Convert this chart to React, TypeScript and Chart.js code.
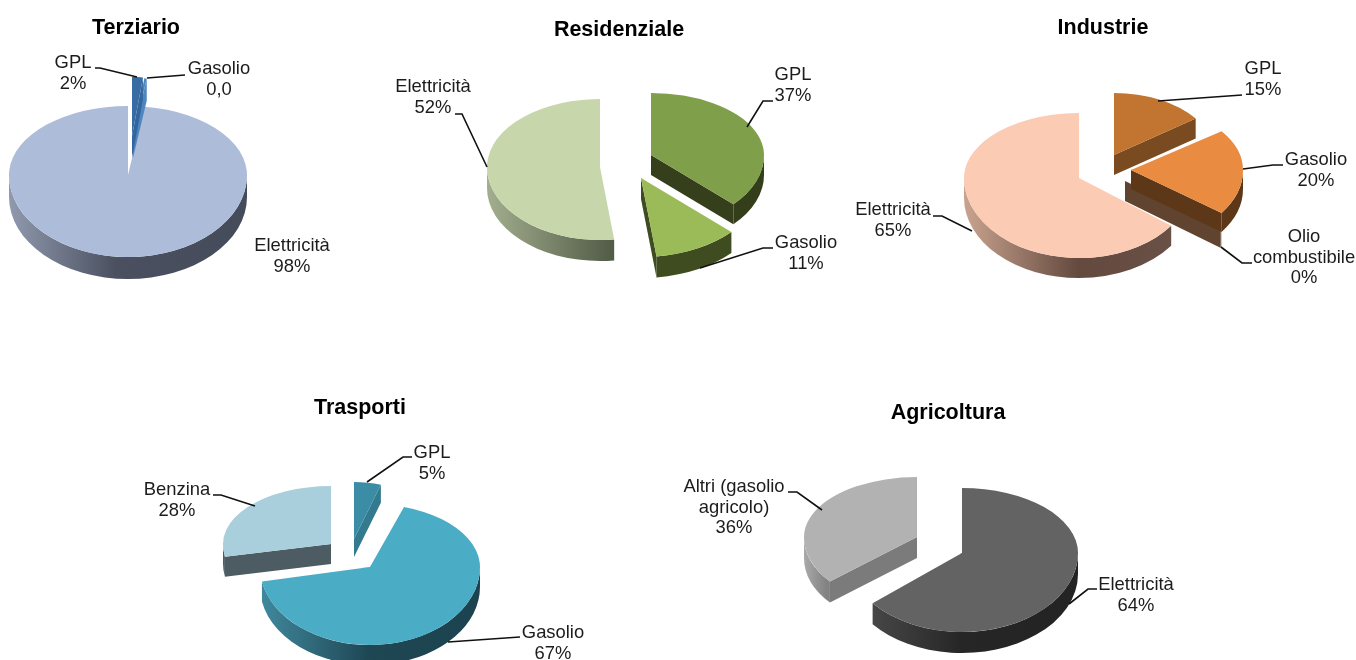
import React, { useEffect, useRef } from "react";
import { Chart, registerables } from "chart.js";

Chart.register(...registerables);

// ---------- data ----------
const terziarioCategories = ["GPL", "Gasolio", "Elettricità"];
const terziarioValues = [1.8, 0.4, 97.8];
const terziarioPercent = ["2%", "0,0", "98%"];

const residenzialeCategories = ["GPL", "Gasolio", "Elettricità"];
const residenzialeValues = [37, 11, 52];
const residenzialePercent = ["37%", "11%", "52%"];

const industrieCategories = ["GPL", "Gasolio", "Olio\ncombustibile", "Elettricità"];
const industrieValues = [15, 20, 0.2, 64.8];
const industriePercent = ["15%", "20%", "0%", "65%"];

const trasportiCategories = ["GPL", "Gasolio", "Benzina"];
const trasportiValues = [5, 67, 28];
const trasportiPercent = ["5%", "67%", "28%"];

const agricolturaCategories = ["Elettricità", "Altri (gasolio\nagricolo)"];
const agricolturaValues = [64, 36];
const agricolturaPercent = ["64%", "36%"];

// ---------- layout & style (page coordinates) ----------
type Stop = [number, string];
type Slice = {
  x: number; y: number; rx: number; top: number; bottom: number; depth: number;
  fill: string; face: string; wall: Stop[];
};
type Label = { x: number; y: number; line?: number[][] };
type Spec = {
  title: string; box: { left: number; top: number; width: number; height: number };
  categories: string[]; values: number[]; percent: string[];
  slices: Slice[]; order: number[]; labels: Label[];
};

const flat = (c: string): Stop[] => [[0, c], [1, c]];

const charts: Spec[] = [
  {
    title: "Terziario",
    box: { left: -90, top: 15, width: 452, height: 320 },
    categories: terziarioCategories, values: terziarioValues, percent: terziarioPercent,
    order: [2, 1, 0],
    slices: [
      { x: 132, y: 136, rx: 97, top: 59, bottom: 60, depth: 22, fill: "#376ba3", face: "#34669d", wall: flat("#34669d") },
      { x: 133, y: 136, rx: 100, top: 58, bottom: 60, depth: 22, fill: "#4f86c2", face: "#4f86c2", wall: flat("#4f86c2") },
      { x: 128, y: 175, rx: 119, top: 69, bottom: 82, depth: 22, fill: "#adbcd9", face: "#454c5c",
        wall: [[0, "#9099ae"], [0.45, "#4a5060"], [1, "#444b59"]] },
    ],
    labels: [
      { x: 73, y: 63, line: [[95, 68], [100, 68], [137, 77]] },
      { x: 219, y: 69, line: [[185, 75], [147, 78]] },
      { x: 292, y: 246 },
    ],
  },
  {
    title: "Residenziale",
    box: { left: 369, top: 17, width: 500, height: 320 },
    categories: residenzialeCategories, values: residenzialeValues, percent: residenzialePercent,
    order: [0, 2, 1],
    slices: [
      { x: 651, y: 155, rx: 113, top: 62, bottom: 72, depth: 20, fill: "#7f9f4a", face: "#363f1c", wall: flat("#343e1b") },
      { x: 641, y: 178, rx: 124, top: 70, bottom: 79, depth: 21, fill: "#9bbb59", face: "#3f4c20", wall: flat("#3f4c20") },
      { x: 600, y: 167, rx: 113, top: 68, bottom: 73, depth: 21, fill: "#c7d7ab", face: "#515b46",
        wall: [[0, "#a3ae8f"], [0.56, "#515b46"], [1, "#515b46"]] },
    ],
    labels: [
      { x: 793, y: 75, line: [[773, 101], [763, 101], [747, 127]] },
      { x: 806, y: 243, line: [[773, 248], [763, 248], [700, 268]] },
      { x: 433, y: 87, line: [[455, 114], [462, 114], [487, 167]] },
    ],
  },
  {
    title: "Industrie",
    box: { left: 843, top: 15, width: 520, height: 320 },
    categories: industrieCategories, values: industrieValues, percent: industriePercent,
    order: [0, 3, 2, 1],
    slices: [
      { x: 1114, y: 155, rx: 101, top: 62, bottom: 62, depth: 20, fill: "#c27530", face: "#7a4a20", wall: flat("#7a4a20") },
      { x: 1131, y: 170, rx: 112, top: 66, bottom: 73, depth: 19, fill: "#e98b40", face: "#5c3818", wall: flat("#5c3818") },
      { x: 1125, y: 181, rx: 119, top: 70, bottom: 78, depth: 20, fill: "#614430", face: "#614430", wall: flat("#614430") },
      { x: 1079, y: 178, rx: 115, top: 65, bottom: 80, depth: 20, fill: "#fbcbb3", face: "#63493e",
        wall: [[0, "#c9a38f"], [0.5, "#63493e"], [1, "#6b5248"]] },
    ],
    labels: [
      { x: 1263, y: 69, line: [[1242, 95], [1158, 101]] },
      { x: 1316, y: 160, line: [[1283, 165], [1273, 165], [1243, 169]] },
      { x: 1304, y: 237, line: [[1252, 263], [1242, 263], [1221, 247]] },
      { x: 893, y: 210, line: [[933, 216], [942, 216], [972, 231]] },
    ],
  },
  {
    title: "Trasporti",
    box: { left: 110, top: 395, width: 500, height: 265 },
    categories: trasportiCategories, values: trasportiValues, percent: trasportiPercent,
    order: [2, 0, 1],
    slices: [
      { x: 354, y: 539, rx: 87, top: 57, bottom: 57, depth: 18, fill: "#3b8ca5", face: "#337a8e", wall: flat("#337a8e") },
      { x: 370, y: 567, rx: 110, top: 63, bottom: 78, depth: 20, fill: "#4bacc6", face: "#1e4653",
        wall: [[0, "#40899e"], [0.5, "#1e4653"], [1, "#1c4450"]] },
      { x: 331, y: 544, rx: 108, top: 58, bottom: 68, depth: 20, fill: "#a9cfdd", face: "#4d5c63", wall: flat("#4d5c63") },
    ],
    labels: [
      { x: 432, y: 453, line: [[412, 457], [403, 457], [367, 482]] },
      { x: 553, y: 633, line: [[520, 637], [448, 642]] },
      { x: 177, y: 490, line: [[213, 495], [221, 495], [255, 506]] },
    ],
  },
  {
    title: "Agricoltura",
    box: { left: 648, top: 400, width: 600, height: 260 },
    categories: agricolturaCategories, values: agricolturaValues, percent: agricolturaPercent,
    order: [1, 0],
    slices: [
      { x: 962, y: 553, rx: 116, top: 65, bottom: 79, depth: 21, fill: "#636363", face: "#262626",
        wall: [[0, "#505050"], [0.5, "#262626"], [1, "#232323"]] },
      { x: 917, y: 537, rx: 113, top: 60, bottom: 70, depth: 21, fill: "#b2b2b2", face: "#7b7b7b",
        wall: [[0, "#aaaaaa"], [0.1, "#828282"], [1, "#7b7b7b"]] },
    ],
    labels: [
      { x: 1136, y: 585, line: [[1097, 589], [1088, 589], [1069, 604]] },
      { x: 734, y: 487, line: [[788, 492], [797, 492], [822, 510]] },
    ],
  },
];

const BASE_RADIUS = 100;
const FONT = '"Liberation Sans", Arial, sans-serif';

function makePie3d(spec: Spec) {
  const { box } = spec;
  return {
    id: "pie3d",
    beforeDatasetsDraw(chart: any) {
      const ctx: CanvasRenderingContext2D = chart.ctx;
      const arcs = chart.getDatasetMeta(0).data;
      for (const i of spec.order) {
        const arc = arcs[i];
        const s = spec.slices[i];
        const x = s.x - box.left;
        const y = s.y - box.top;
        const a0 = arc.startAngle;
        const a1 = arc.endAngle;
        const pt = (t: number): [number, number] => [
          x + s.rx * Math.cos(t),
          y + (Math.sin(t) < 0 ? s.top : s.bottom) * Math.sin(t),
        ];
        const face = (t: number) => {
          const [px, py] = pt(t);
          ctx.beginPath();
          ctx.moveTo(x, y);
          ctx.lineTo(px, py);
          ctx.lineTo(px, py + s.depth);
          ctx.lineTo(x, y + s.depth);
          ctx.closePath();
          ctx.fillStyle = s.face;
          ctx.fill();
        };
        // radial cut faces turned toward the viewer
        if (Math.cos(a0) < 0) face(a0);
        if (Math.cos(a1) > 0) face(a1);
        // rounded outer wall on the front half
        const from = Math.max(a0, 0);
        const to = Math.min(a1, Math.PI);
        if (from < to) {
          const g = ctx.createLinearGradient(x - s.rx, 0, x + s.rx, 0);
          s.wall.forEach(([p, c]) => g.addColorStop(p, c));
          ctx.beginPath();
          ctx.ellipse(x, y, s.rx, s.bottom, 0, from, to);
          ctx.ellipse(x, y + s.depth, s.rx, s.bottom, 0, to, from, true);
          ctx.closePath();
          ctx.fillStyle = g;
          ctx.fill();
        }
        // top surface: the library's own arc, squashed differently behind and in front of the apex
        const w = chart.width;
        const h = chart.height;
        const sx = s.rx / arc.outerRadius;
        ctx.save();
        ctx.beginPath();
        ctx.rect(0, 0, w, y + 0.5);
        ctx.clip();
        ctx.translate(x, y);
        ctx.scale(sx, s.top / arc.outerRadius);
        ctx.translate(-arc.x, -arc.y);
        arc.draw(ctx);
        ctx.restore();
        ctx.save();
        ctx.beginPath();
        ctx.rect(0, y - 0.5, w, h);
        ctx.clip();
        ctx.translate(x, y);
        ctx.scale(sx, s.bottom / arc.outerRadius);
        ctx.translate(-arc.x, -arc.y);
        arc.draw(ctx);
        ctx.restore();
      }
      return false;
    },
    afterDraw(chart: any) {
      const ctx: CanvasRenderingContext2D = chart.ctx;
      ctx.save();
      ctx.strokeStyle = "#111111";
      ctx.lineWidth = 1.6;
      ctx.fillStyle = "#1c1c1c";
      ctx.font = `18.4px ${FONT}`;
      ctx.textAlign = "center";
      ctx.textBaseline = "middle";
      spec.labels.forEach((l, i) => {
        if (l.line) {
          ctx.beginPath();
          l.line.forEach(([px, py], k) => {
            if (k === 0) ctx.moveTo(px - box.left, py - box.top);
            else ctx.lineTo(px - box.left, py - box.top);
          });
          ctx.stroke();
        }
        const lines = [...spec.categories[i].split("\n"), spec.percent[i]];
        lines.forEach((t, k) => {
          ctx.fillText(t, l.x - box.left, l.y - box.top + k * 20.7);
        });
      });
      ctx.restore();
    },
  };
}

function Pie3D({ spec }: { spec: Spec }) {
  const ref = useRef<HTMLCanvasElement>(null);
  useEffect(() => {
    const chart = new Chart(ref.current!, {
      type: "pie",
      data: {
        labels: spec.categories.map((c) => c.replace("\n", " ")),
        datasets: [
          {
            data: spec.values,
            backgroundColor: spec.slices.map((s) => s.fill),
            borderWidth: 0,
          },
        ],
      },
      options: {
        animation: false,
        responsive: false,
        devicePixelRatio: 1,
        radius: BASE_RADIUS,
        rotation: 0,
        layout: { padding: 0 },
        plugins: {
          legend: { display: false },
          tooltip: { enabled: false },
          title: {
            display: true,
            text: spec.title,
            color: "#000000",
            padding: 0,
            font: { family: FONT, size: 21.5, weight: "bold" },
          },
        },
      },
      plugins: [makePie3d(spec)],
    } as any);
    return () => chart.destroy();
  }, [spec]);
  const { left, top, width, height } = spec.box;
  return (
    <canvas
      ref={ref}
      width={width}
      height={height}
      style={{ position: "absolute", left, top, width, height, display: "block" }}
    />
  );
}

export default function App() {
  return (
    <div style={{ position: "fixed", inset: 0, overflow: "hidden", background: "#ffffff" }}>
      {charts.map((spec) => (
        <Pie3D key={spec.title} spec={spec} />
      ))}
    </div>
  );
}
